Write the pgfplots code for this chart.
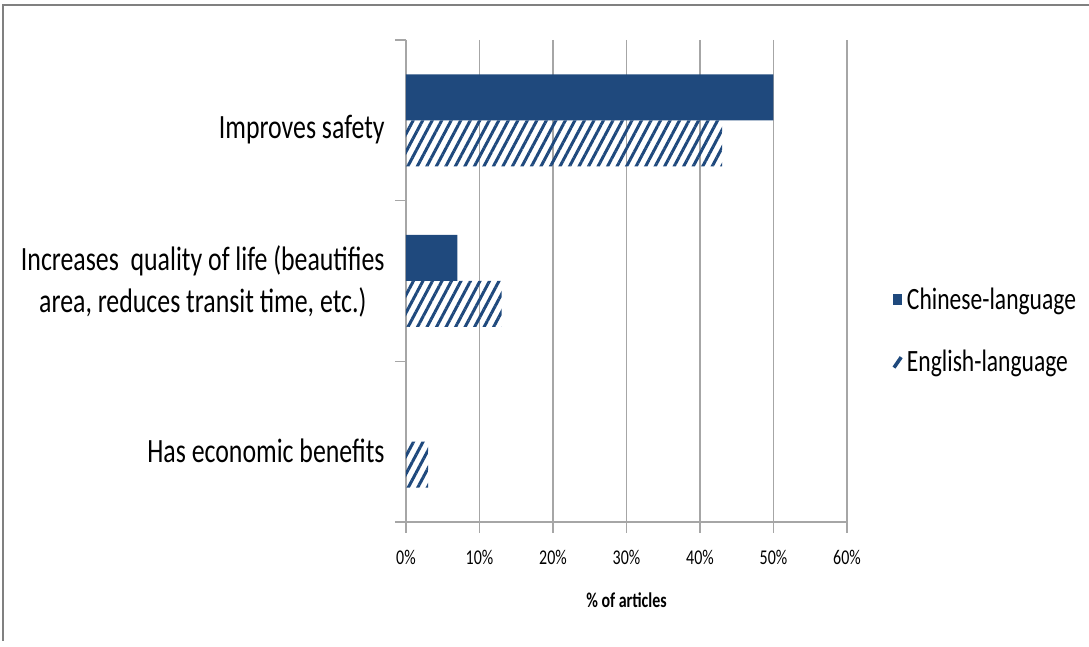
\documentclass[border=0pt]{standalone}
\usepackage{pgfplots}
\pgfplotsset{compat=1.18}
\usetikzlibrary{patterns.meta}
\usepackage{fontspec}
\setmainfont{Carlito}[FakeStretch=0.76]
\definecolor{barblue}{HTML}{1F497D}
\definecolor{gridgray}{HTML}{A6A6A6}

\begin{document}
\begin{tikzpicture}
    \path[use as bounding box] (0,0) rectangle (544.5pt,323.5pt);
    \draw[gray, line width=1pt] (1.5pt,3pt) -- (1.5pt,321pt) -- (544.5pt,321pt);

    \begin{axis}[
        scale only axis,
        width=220.5pt,
        height=241pt,
        at={(203pt,62.5pt)},
        anchor=south west,
        xbar=0pt,
        bar width=23pt,
        xmin=0, xmax=60,
        ymin=-0.5, ymax=2.5,
        y dir=reverse,
        axis x line=bottom,
        axis y line=left,
        axis line style={gridgray, line width=0.9pt, -},
        xtick={0,10,20,30,40,50,60},
        xticklabels={0\%,10\%,20\%,30\%,40\%,50\%,60\%},
        xmajorgrids,
        major grid style={gridgray, line width=0.8pt},
        tick style={gridgray, line width=0.8pt},
        major tick length=5.5pt,
        tick align=outside,
        xticklabel style={font=\fontsize{10.5}{12}\selectfont, yshift=-5pt},
        % boundaries between categories carry the ticks
        ytick={-0.5,0.5,1.5,2.5},
        yticklabels={},
        yticklabel style={font=\fontsize{17}{21}\selectfont, align=center, inner sep=0pt, xshift=-10.5pt},
        % category names, placed a little below each group's centre as in the original
        extra y ticks={0.06,1.0,2.06},
        extra y tick labels={
            Improves safety,
            {Increases\ \ quality of life (beautifies\\area, reduces transit time, etc.)},
            Has economic benefits},
        extra y tick style={major tick length=0pt, grid=none},
        xlabel={\textbf{\% of articles}},
        xlabel style={font=\fontsize{10.5}{12}\selectfont, yshift=-7pt},
        legend style={draw=none, fill=none, at={(1.088,0.396)}, anchor=west,
            font=\fontsize{15.5}{18}\selectfont, row sep=15pt,
            /tikz/every even column/.append style={column sep=3pt}},
        legend cell align=left,
        clip=false,
    ]

    \addplot[fill=barblue, draw=none, bar shift=11.5pt,
        legend image code/.code={\fill[barblue] (0pt,-2.8pt) rectangle (4.6pt,2.8pt);}]
        coordinates {(50,0) (7,1)};
    \addlegendentry{Chinese-language}

    \addplot[draw=none, bar shift=-11.5pt,
        pattern={Lines[angle=62, distance=4.2pt, line width=1.5pt]},
        pattern color=barblue,
        legend image code/.code={\draw[barblue, line width=1.8pt] (0.6pt,-2.6pt) -- (4.2pt,2.6pt);}]
        coordinates {(43,0) (13,1) (3,2)};
    \addlegendentry{English-language}

    \end{axis}
\end{tikzpicture}
\end{document}
